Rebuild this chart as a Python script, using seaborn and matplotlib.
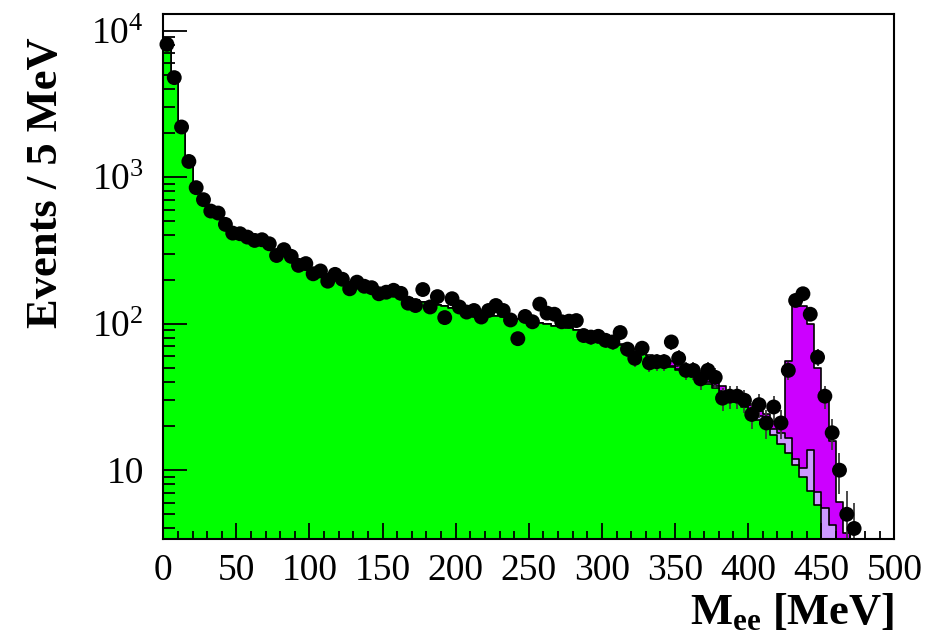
import numpy as np
import pandas as pd
import matplotlib
matplotlib.use("Agg")
import matplotlib.pyplot as plt
import seaborn as sns
from matplotlib.ticker import (FixedLocator, FixedFormatter, MultipleLocator,
                               LogLocator, NullFormatter)

# ---------------------------------------------------------------- data
BIN_WIDTH = 5  # MeV
MASS_RANGE = (0, 500)
mass_edges = np.arange(MASS_RANGE[0], MASS_RANGE[1] + BIN_WIDTH, BIN_WIDTH)
mass_centers = mass_edges[:-1] + BIN_WIDTH / 2

# observed events per 5 MeV bin
data_counts = [
    8060, 4780, 2200, 1280, 848, 702, 587, 569, 476, 415,
    411, 390, 370, 374, 351, 292, 320, 288, 250, 257,
    219, 229, 195, 217, 201, 173, 192, 180, 176, 160,
    164, 169, 161, 138, 133, 171, 130, 153, 110, 148,
    130, 120, 123, 111, 123, 133, 123, 106, 79, 112,
    103, 136, 118, 116, 103, 104, 105, 83, 81, 82,
    77, 75, 87, 67, 58, 68, 54, 55, 55, 75,
    58, 48, 48, 42, 48, 43, 31, 32, 32, 30,
    24, 28, 21, 27, 21, 48, 144, 160, 116, 59,
    32, 18, 10, 5, 4, 0, 0, 0, 0, 0,
]

# dominant background (green)
bkg_main = [
    7600, 5100, 2350, 1380, 910, 730, 610, 540, 480, 440,
    410, 385, 365, 345, 325, 305, 290, 275, 262, 250,
    238, 228, 218, 210, 202, 194, 187, 180, 174, 168,
    163, 158, 153, 149, 145, 141, 137, 134, 131, 128,
    125, 122, 120, 117, 115, 113, 111, 109, 107, 105,
    103, 101, 99, 97, 95, 93, 90, 87, 84, 81,
    78, 75, 72, 69, 66, 63, 60, 57, 54, 51,
    48, 45.5, 43, 41, 39, 36.5, 33.5, 31, 29, 27,
    24.5, 22, 20, 17.5, 15, 13, 10.8, 9, 7.2, 5.8,
    0, 0, 0, 0, 0, 0, 0, 0, 0, 0,
]

# secondary background (light purple)
bkg_other = [
    0, 0, 0, 0, 0, 0, 0, 0, 0, 0,
    0, 0, 0, 0, 0, 0, 0, 0, 0, 0,
    0, 0, 0, 0, 0, 0, 0, 0, 0, 0,
    0, 0, 0, 0, 0, 0, 0, 0, 0, 0,
    0, 0, 0, 0, 0, 0, 0, 0, 0, 0,
    0, 0, 0, 0, 0, 0, 0, 0, 0, 0,
    0, 0, 0, 0, 0, 0.5, 0.5, 0.6, 0.6, 0.7,
    0.7, 0.8, 0.8, 0.9, 0.9, 1.0, 1.0, 1.1, 1.1, 1.2,
    1.2, 1.3, 1.5, 1.5, 3.0, 3.7, 1.2, 1.3, 6.5, 1.3,
    5.5, 4.2, 3.0, 2.0, 1.0, 0.5, 0, 0, 0, 0,
]

# peaking component (magenta)
peak_component = [
    0, 0, 0, 0, 0, 0, 0, 0, 0, 0,
    0, 0, 0, 0, 0, 0, 0, 0, 0, 0,
    0, 0, 0, 0, 0, 0, 0, 0, 0, 0,
    0, 0, 0, 0, 0, 0, 0, 0, 0, 0,
    0, 0, 0, 0, 0, 0, 0, 0, 0, 0,
    0, 0, 0, 0, 0, 0, 0, 0, 0, 0,
    0.5, 0.5, 0.6, 0.6, 0.7, 0.8, 1.0, 1.2, 1.5, 3.5,
    3.0, 1.5, 1.5, 1.5, 1.8, 2.0, 3.0, 1.8, 2.0, 2.0,
    2.0, 2.2, 2.5, 2.5, 3.0, 39.3, 119, 120.7, 86.3, 42.9,
    27.5, 11.6, 3.1, 1.7, 0.8, 0.3, 0, 0, 0, 0,
]

# ---------------------------------------------------------------- style
sns.set_theme(style="white")
plt.rcParams["font.family"] = ["Liberation Serif", "DejaVu Serif"]
plt.rcParams["mathtext.fontset"] = "custom"
plt.rcParams["mathtext.rm"] = "Liberation Serif"
plt.rcParams["mathtext.it"] = "Liberation Serif:italic"
plt.rcParams["mathtext.bf"] = "Liberation Serif:bold"

GREEN = "#00ff00"
LAVENDER = "#cc99ff"
MAGENTA = "#cc00ff"

fig = plt.figure(figsize=(9.4, 6.42), dpi=100)
ax = fig.add_axes([0.1737, 0.1600, 0.7777, 0.8187])

main = np.array(bkg_main, dtype=float)
other = np.array(bkg_other, dtype=float)
peak = np.array(peak_component, dtype=float)
hist_df = pd.DataFrame({
    "mass": mass_centers,
    "total": main + other + peak,
    "main_plus_other": main + other,
    "main": main,
})

# stacked histograms: draw cumulative totals from the top layer down
for column, color in [("total", MAGENTA), ("main_plus_other", LAVENDER),
                      ("main", GREEN)]:
    sns.histplot(data=hist_df, x="mass", weights=column,
                 binwidth=BIN_WIDTH, binrange=MASS_RANGE,
                 element="step", fill=True, color=color, alpha=1.0,
                 edgecolor="black", linewidth=1.2, ax=ax)

# data points with Poisson errors
counts = np.array(data_counts, dtype=float)
has_data = counts > 0
points_df = pd.DataFrame({"mass": mass_centers[has_data],
                          "events": counts[has_data]})
ax.errorbar(points_df["mass"], points_df["events"],
            yerr=np.sqrt(points_df["events"]), fmt="none",
            ecolor="#3c3c3c", elinewidth=1.3, capsize=0, zorder=4)
sns.scatterplot(data=points_df, x="mass", y="events", s=115,
                color="black", edgecolor="none", linewidth=0, zorder=5,
                legend=False, clip_on=False, ax=ax)

# ---------------------------------------------------------------- axes
ax.set_yscale("log")
ax.set_xlim(*MASS_RANGE)
ax.set_ylim(3.375, 13060)
ax.set_axisbelow(False)

ax.xaxis.set_major_locator(MultipleLocator(50))
ax.xaxis.set_minor_locator(MultipleLocator(10))
ax.yaxis.set_major_locator(FixedLocator([10, 100, 1000, 10000]))
ax.yaxis.set_major_formatter(
    FixedFormatter(["10", r"$10^{2}$", r"$10^{3}$", r"$10^{4}$"]))
ax.yaxis.set_minor_locator(LogLocator(base=10, subs=np.arange(2, 10), numticks=20))
ax.yaxis.set_minor_formatter(NullFormatter())

ax.tick_params(axis="both", which="both", direction="in", bottom=True,
               left=True, top=False, right=False, color="black", width=1.3,
               labelsize=27, labelcolor="black")
ax.tick_params(axis="y", which="major", length=17, pad=14)
ax.tick_params(axis="y", which="minor", length=8.5)
ax.tick_params(axis="x", which="major", length=11.5, pad=10)
ax.tick_params(axis="x", which="minor", length=5.8)

for spine in ax.spines.values():
    spine.set_visible(True)
    spine.set_color("black")
    spine.set_linewidth(1.5)
    spine.set_zorder(6)

ax.set_ylabel("Events / 5 MeV", fontsize=32, fontweight="bold", color="black")
ax.yaxis.label.set(ha="right", va="center", rotation_mode="anchor")
ax.yaxis.set_label_coords(-0.160, 0.955)

ax.set_xlabel(r"$\mathbf{M}_{\mathbf{ee}}$ [MeV]", fontsize=32,
              fontweight="bold", color="black")
ax.xaxis.label.set(ha="right", va="top")
ax.xaxis.set_label_coords(1.0, -0.100)

fig.savefig("out.png", dpi=100)
